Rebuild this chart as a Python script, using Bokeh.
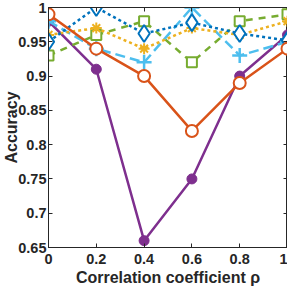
from bokeh.plotting import figure
from bokeh.models import LinearAxis, Range1d, FixedTicker
from bokeh.embed import file_html
from bokeh.resources import INLINE

rho = [0, 0.2, 0.4, 0.6, 0.8, 1.0]
acc_purple = [0.98, 0.91, 0.66, 0.75, 0.90, 0.96]
acc_lightblue = [0.98, 0.94, 0.92, 1.00, 0.93, 0.95]
acc_green = [0.93, 0.96, 0.98, 0.92, 0.98, 0.99]
acc_yellow = [0.96, 0.97, 0.94, 0.97, 0.96, 0.98]
acc_blue = [0.95, 1.00, 0.962, 0.978, 0.962, 0.952]
acc_orange = [0.99, 0.94, 0.90, 0.82, 0.89, 0.94]

x_ticks = [0, 0.2, 0.4, 0.6, 0.8, 1]
y_ticks = [0.65, 0.7, 0.75, 0.8, 0.85, 0.9, 0.95, 1]

FONT = "Liberation Sans"
AX = "#262626"

p = figure(frame_width=239, frame_height=240, output_backend="svg", toolbar_location=None,
           x_range=Range1d(0, 1), y_range=Range1d(0.65, 1.0),
           min_border_left=0, min_border_right=0, min_border_top=7, min_border_bottom=0)
p.background_fill_color = "white"
p.border_fill_color = "white"
p.grid.visible = False
p.outline_line_color = AX
p.outline_line_width = 1

for ax in [p.xaxis[0], p.yaxis[0]]:
    ax.major_tick_in = 4
    ax.major_tick_out = 0
    ax.minor_tick_line_color = None
    ax.axis_line_color = AX
    ax.major_tick_line_color = AX
    ax.major_label_text_font = FONT
    ax.major_label_text_font_style = "bold"
    ax.major_label_text_font_size = "14.5px"
    ax.major_label_text_color = AX
    ax.axis_label_text_font = FONT
    ax.axis_label_text_font_style = "bold"
    ax.axis_label_text_font_size = "16px"
    ax.axis_label_text_color = AX

p.xaxis[0].ticker = FixedTicker(ticks=x_ticks)
p.yaxis[0].ticker = FixedTicker(ticks=y_ticks)
p.xaxis[0].major_label_overrides = {1: "1", 0: "0"}
p.yaxis[0].major_label_overrides = {1: "1"}
p.xaxis[0].axis_label = "Correlation coefficient ρ"
p.yaxis[0].axis_label = "Accuracy"
p.xaxis[0].major_label_standoff = 6
p.yaxis[0].major_label_standoff = 2
p.yaxis[0].axis_label_standoff = -5
p.xaxis[0].axis_label_standoff = 2

r_ax = LinearAxis(ticker=FixedTicker(ticks=y_ticks), major_tick_in=4, major_tick_out=0,
                  minor_tick_line_color=None, major_label_text_font_size="0px",
                  axis_line_color=AX, major_tick_line_color=AX, major_label_standoff=0)
p.add_layout(r_ax, "right")
t_ax = LinearAxis(ticker=FixedTicker(ticks=x_ticks), major_tick_in=4, major_tick_out=0,
                  minor_tick_line_color=None, major_label_text_font_size="0px",
                  axis_line_color=AX, major_tick_line_color=AX, major_label_standoff=0)
p.add_layout(t_ax, "above")

LW = 2.5
# purple
c = "#7E2F8E"
p.line(rho, acc_purple, line_color=c, line_width=LW)
p.scatter(rho, acc_purple, marker="circle", size=10, fill_color=c, line_color=c)
# light blue
c = "#4DBEEE"
p.line(rho, acc_lightblue, line_color=c, line_width=LW, line_dash="10 5")
p.scatter(rho, acc_lightblue, marker="cross", size=15, line_color=c, line_width=LW)
# green
c = "#77AC30"
p.line(rho, acc_green, line_color=c, line_width=LW, line_dash="7 6")
p.scatter(rho, acc_green, marker="square", size=10, fill_color="white", line_color=c, line_width=2)
# yellow
c = "#EDB120"
p.line(rho, acc_yellow, line_color=c, line_width=LW, line_dash="3 3")
p.scatter(rho, acc_yellow, marker="asterisk", size=11, line_color=c, line_width=2)
# blue
c = "#0072BD"
p.line(rho, acc_blue, line_color=c, line_width=LW, line_dash="3 3")
p.scatter(rho, acc_blue, marker="diamond", size=17, fill_color="white", line_color=c, line_width=2)
# orange
c = "#D95319"
p.line(rho, acc_orange, line_color=c, line_width=LW)
p.scatter(rho, acc_orange, marker="circle", size=12, fill_color="white", line_color=c, line_width=2)

open("out.html", "w").write(file_html(p, INLINE))
